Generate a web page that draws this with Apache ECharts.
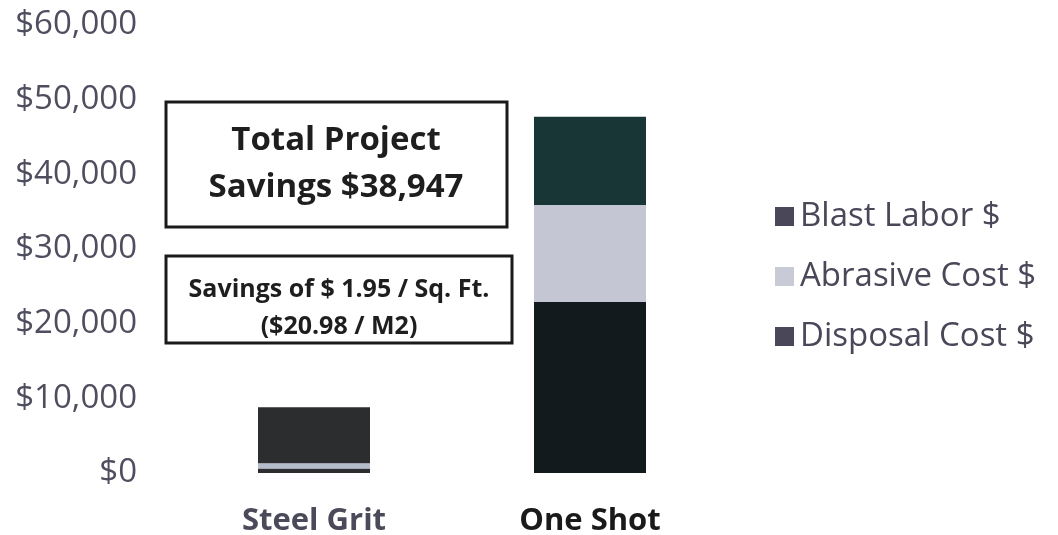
<!DOCTYPE html>
<html>
<head>
<meta charset="utf-8">
<script src="https://cdn.jsdelivr.net/npm/echarts@6/dist/echarts.min.js"></script>
<style>
  html, body { margin: 0; padding: 0; background: #fff; }
  #chart { width: 1058px; height: 535px; }
</style>
</head>
<body>
<div id="chart"></div>
<script>
// categories and stacked costs (bottom to top)
const categories = ['Steel Grit', 'One Shot']
const disposalCost = [600, 22900]
const abrasiveCost = [700, 13000]
const blastLabor = [7500, 11800]
const yTicks = [0, 10000, 20000, 30000, 40000, 50000, 60000]

// the scan shows slightly different shades per bar
const disposalColors = ['#2b2d2e', '#131a1d']
const abrasiveColors = ['#b4bccb', '#c4c6d3']
const laborColors = ['#2b2d2e', '#183636']

const font = '"Open Sans", Lato, sans-serif'

const chart = echarts.init(document.getElementById('chart'))

const withColors = (vals, colors) => vals.map((v, i) => ({ value: v, itemStyle: { color: colors[i] } }))

const fmtMoney = v => '$' + v.toLocaleString('en-US')

chart.setOption({
  animation: false,
  textStyle: { fontFamily: font },
  grid: { left: 176, right: 330, top: 25, bottom: 62, outerBoundsMode: 'none', containLabel: false },
  legend: {
    orient: 'vertical',
    left: 770,
    top: 195,
    itemWidth: 19,
    itemHeight: 19,
    itemGap: 27,
    icon: 'rect',
    data: ['Blast Labor $', 'Abrasive Cost $', 'Disposal Cost $'],
    textStyle: { fontSize: 33, lineHeight: 33, color: '#4a4858', fontFamily: font, padding: [0, 0, 0, 1] }
  },
  xAxis: {
    type: 'category',
    data: categories,
    axisLine: { show: false },
    axisTick: { show: false },
    axisLabel: {
      margin: 33,
      formatter: (v, i) => i === 0 ? '{a|' + v + '}' : '{b|' + v + '}',
      rich: {
        a: { fontSize: 31, fontWeight: 'bold', color: '#4a4a5a', fontFamily: font },
        b: { fontSize: 31, fontWeight: 'bold', color: '#1a1a1a', fontFamily: font }
      }
    }
  },
  yAxis: {
    type: 'value',
    min: yTicks[0],
    max: yTicks[yTicks.length - 1],
    interval: yTicks[1] - yTicks[0],
    axisLine: { show: false },
    axisTick: { show: false },
    splitLine: { show: false },
    axisLabel: {
      margin: 39,
      fontSize: 33,
      color: '#4e4e5e',
      fontFamily: font,
      formatter: fmtMoney
    }
  },
  series: [
    {
      name: 'Disposal Cost $',
      type: 'bar',
      stack: 'cost',
      barWidth: 112,
      itemStyle: { color: '#4a4858' },
      data: withColors(disposalCost, disposalColors)
    },
    {
      name: 'Abrasive Cost $',
      type: 'bar',
      stack: 'cost',
      barWidth: 112,
      itemStyle: { color: '#c8cad6' },
      data: withColors(abrasiveCost, abrasiveColors)
    },
    {
      name: 'Blast Labor $',
      type: 'bar',
      stack: 'cost',
      barWidth: 112,
      itemStyle: { color: '#4a4858' },
      data: withColors(blastLabor, laborColors)
    }
  ],
  graphic: [
    {
      type: 'rect',
      shape: { x: 166, y: 102, width: 341, height: 125 },
      style: { fill: '#fff', stroke: '#1a1a1a', lineWidth: 3 },
      z: 10
    },
    {
      type: 'text',
      x: 336,
      y: 164,
      style: {
        text: 'Total Project\nSavings $38,947',
        font: 'bold 33px ' + font,
        fill: '#1e1e1e',
        align: 'center',
        verticalAlign: 'middle',
        lineHeight: 47
      },
      z: 11
    },
    {
      type: 'rect',
      shape: { x: 166, y: 256, width: 346, height: 87 },
      style: { fill: '#fff', stroke: '#1a1a1a', lineWidth: 3 },
      z: 10
    },
    {
      type: 'text',
      x: 339,
      y: 308,
      style: {
        text: 'Savings of $ 1.95 / Sq. Ft.\n($20.98 / M2)',
        font: 'bold 25px ' + font,
        fill: '#1e1e1e',
        align: 'center',
        verticalAlign: 'middle',
        lineHeight: 37
      },
      z: 11
    }
  ]
})
</script>
</body>
</html>
